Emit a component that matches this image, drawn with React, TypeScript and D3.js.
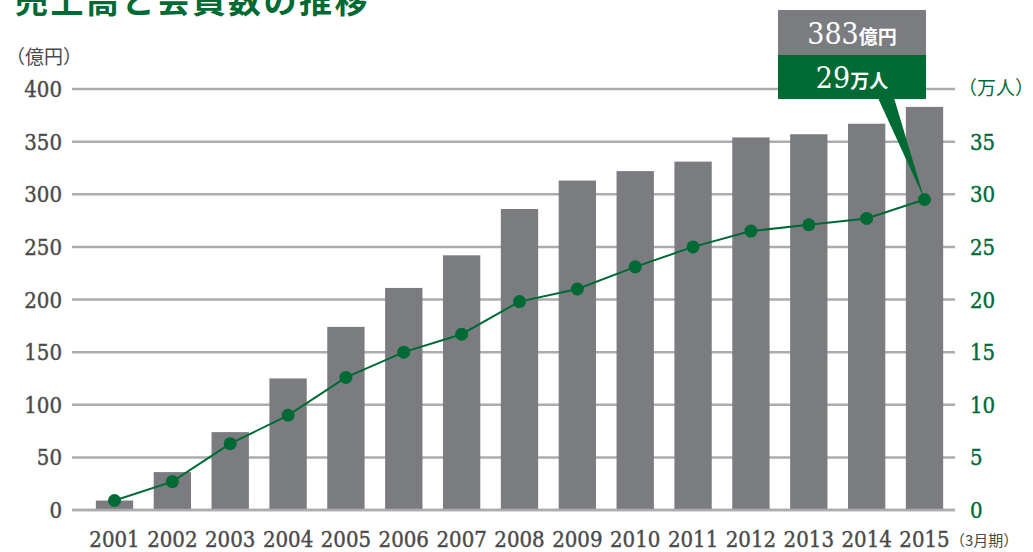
import React from "react";
import * as d3 from "d3";

const years = ["2001","2002","2003","2004","2005","2006","2007","2008","2009","2010","2011","2012","2013","2014","2015"];
const sales = [9, 36, 74, 125, 174, 211, 242, 286, 313, 322, 331, 354, 357, 367, 383];
const members = [0.9, 2.7, 6.3, 9.0, 12.6, 15.0, 16.7, 19.8, 21.0, 23.1, 25.0, 26.5, 27.1, 27.7, 29.5];
const leftTicks = [0, 50, 100, 150, 200, 250, 300, 350, 400];
const rightTicks = [0, 5, 10, 15, 20, 25, 30, 35];

const W = 1033, H = 552;
const GREEN = "#006a35";
const BAR = "#7b7c80";
const GRID = "#acacae";
const TEXT = "#4a4a4a";
const SERIF = "DejaVu Serif";
const CJK = "'Noto Sans CJK JP', sans-serif";

export default function App() {
  const x = d3.scaleBand().domain(years).range([86, 953]).paddingInner(0.355).paddingOuter(0.17);
  const yL = d3.scaleLinear().domain([0, 400]).range([510, 89]);
  const yR = d3.scaleLinear().domain([0, 40]).range([510, 89]);
  const cx = (y: string) => (x(y) as number) + x.bandwidth() / 2;
  const line = d3.line<number>().x((_, i) => cx(years[i])).y((d) => yR(d));
  const last = years.length - 1;
  const tipX = cx(years[last]);
  const tipY = yR(members[last]);
  const num = { fontFamily: SERIF, fontStretch: "condensed" as const };

  return (
    <svg width={W} height={H} style={{ position: "absolute", left: 0, top: 0, background: "#fff" }}>
      <text x={15} y={13} fill={GREEN} fontFamily={CJK} fontWeight={700} fontSize={33} letterSpacing={2.5}>売上高と会員数の推移</text>
      <text x={6} y={64} fill={TEXT} fontFamily={CJK} fontSize={19}>（億円）</text>
      <text x={958} y={95} fill={GREEN} fontFamily={CJK} fontSize={19}>（万人）</text>

      {leftTicks.map((t) => (
        <g key={t}>
          <line x1={72} x2={955} y1={yL(t)} y2={yL(t)} stroke={GRID} strokeWidth={2.5} />
          <text x={62} y={yL(t) + 8} textAnchor="end" fill={TEXT} stroke={TEXT} strokeWidth={0.4} style={num} fontSize={22}>{t}</text>
        </g>
      ))}
      {rightTicks.map((t) => (
        <text key={t} x={970} y={yR(t) + 8} fill={GREEN} stroke={GREEN} strokeWidth={0.4} style={num} fontSize={22}>{t}</text>
      ))}

      {years.map((y, i) => (
        <rect key={y} x={x(y)} y={yL(sales[i])} width={x.bandwidth()} height={510 - yL(sales[i])} fill={BAR} />
      ))}
      <line x1={72} x2={955} y1={510} y2={510} stroke={GRID} strokeWidth={2.5} />

      {years.map((y) => (
        <text key={y} x={cx(y)} y={547} textAnchor="middle" fill={TEXT} stroke={TEXT} strokeWidth={0.4} style={num} fontSize={22}>{y}</text>
      ))}
      <text x={950} y={546} fill={TEXT} fontFamily={CJK} fontSize={15}>（3月期）</text>

      <path d={line(members) || ""} fill="none" stroke={GREEN} strokeWidth={2} />
      {members.map((m, i) => (
        <circle key={i} cx={cx(years[i])} cy={yR(m)} r={6.5} fill={GREEN} />
      ))}

      <rect x={778} y={10} width={148} height={45} fill={BAR} />
      <rect x={778} y={55} width={148} height={44} fill={GREEN} />
      <path d={`M878,98 L894,98 L${tipX},${tipY} Z`} fill={GREEN} />
      <text x={852} y={44} textAnchor="middle" fill="#fff">
        <tspan style={num} fontSize={30}>{sales[last]}</tspan>
        <tspan fontFamily={CJK} fontSize={19} fontWeight={700}>億円</tspan>
      </text>
      <text x={852} y={88} textAnchor="middle" fill="#fff">
        <tspan style={num} fontSize={30}>{Math.floor(members[last])}</tspan>
        <tspan fontFamily={CJK} fontSize={19} fontWeight={700}>万人</tspan>
      </text>
    </svg>
  );
}
